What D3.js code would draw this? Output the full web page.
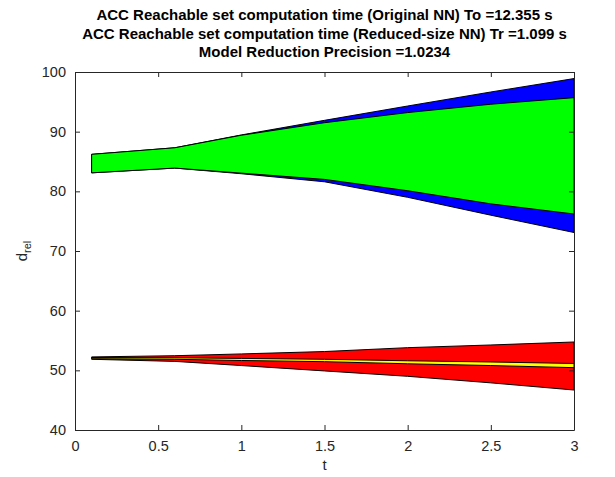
<!DOCTYPE html>
<html>
<head>
<meta charset="utf-8">
<script src="https://cdn.jsdelivr.net/npm/d3@7"></script>
<style>
  body { margin: 0; background: #fff; }
  svg { display: block; font-family: "Liberation Sans", Arial, sans-serif; }
</style>
</head>
<body>
<script>
// time steps and bounds
const times = [0.1, 0.6, 1.0, 1.5, 2.0, 2.5, 3.0];

// d_rel, original NN (blue) and reduced-size NN (green)
const origUpper = [86.2, 87.3, 89.45, 91.9, 94.3, 96.65, 98.9];
const origLower = [83.1, 83.9, 82.95, 81.6, 79.0, 76.0, 73.1];
const redUpper = [86.2, 87.3, 89.4, 91.5, 93.2, 94.6, 95.7];
const redLower = [83.1, 83.9, 83.05, 82.0, 80.1, 77.9, 76.2];

// lower set: original NN (red) and reduced-size NN (yellow)
const orig2Upper = [52.25, 52.45, 52.75, 53.15, 53.8, 54.25, 54.75];
const orig2Lower = [51.85, 51.5, 50.8, 49.9, 49.0, 47.9, 46.7];
const red2Upper = [52.15, 52.1, 52.0, 51.85, 51.6, 51.4, 51.15];
const red2Lower = [51.95, 51.85, 51.65, 51.45, 51.1, 50.8, 50.45];

const xTicks = [0, 0.5, 1, 1.5, 2, 2.5, 3];
const yTicks = [40, 50, 60, 70, 80, 90, 100];

const titleLines = [
  "ACC Reachable set computation time (Original NN) To =12.355 s",
  "ACC Reachable set computation time (Reduced-size NN) Tr =1.099 s",
  "Model Reduction Precision =1.0234"
];

const w = 615;
const h = 477;
const pLeft = 75, pRight = 574, pTop = 72, pBottom = 430;
const axisColor = "#262626";

const svg = d3.select("body").append("svg").attr("width", w).attr("height", h);

const x = d3.scaleLinear().domain([0, 3]).range([pLeft, pRight]);
const y = d3.scaleLinear().domain([40, 100]).range([pBottom, pTop]);

// sets as closed polygons
function band(upper, lower) {
  return d3.area()
    .x((d, i) => x(times[i]))
    .y0((d, i) => y(lower[i]))
    .y1((d, i) => y(upper[i]))(times);
}

const sets = [
  { up: origUpper, lo: origLower, fill: "#0000ff" },
  { up: redUpper, lo: redLower, fill: "#00ff00" },
  { up: orig2Upper, lo: orig2Lower, fill: "#ff0000" },
  { up: red2Upper, lo: red2Lower, fill: "#ffff00" }
];

svg.append("g")
  .selectAll("path")
  .data(sets)
  .enter()
  .append("path")
  .attr("d", (d) => band(d.up, d.lo) + "Z")
  .attr("fill", (d) => d.fill)
  .attr("stroke", "#000")
  .attr("stroke-width", 1)
  .attr("stroke-linejoin", "round");

// axes, MATLAB style: ticks inside, box on
const tick = 5;
const xAxis = d3.axisBottom(x).tickValues(xTicks).tickSizeInner(-tick).tickSizeOuter(0).tickPadding(11).tickFormat(d3.format("~g"));
const yAxis = d3.axisLeft(y).tickValues(yTicks).tickSizeInner(-tick).tickSizeOuter(0).tickPadding(9);
const xTop = d3.axisTop(x).tickValues(xTicks).tickSizeInner(-tick).tickSizeOuter(0).tickFormat("");
const yRight = d3.axisRight(y).tickValues(yTicks).tickSizeInner(-tick).tickSizeOuter(0).tickFormat("");

const gx = svg.append("g").attr("transform", "translate(0," + pBottom + ")").call(xAxis);
const gy = svg.append("g").attr("transform", "translate(" + pLeft + ",0)").call(yAxis);
const gt = svg.append("g").attr("transform", "translate(0," + pTop + ")").call(xTop);
const gr = svg.append("g").attr("transform", "translate(" + pRight + ",0)").call(yRight);

[gx, gy, gt, gr].forEach((g) => {
  g.selectAll("path, line").attr("stroke", axisColor);
  g.selectAll("text").attr("fill", axisColor).style("font-size", "14.5px");
});
gx.selectAll("text").attr("dy", "0.71em");

// labels
svg.append("text")
  .attr("x", (pLeft + pRight) / 2)
  .attr("y", 470)
  .attr("text-anchor", "middle")
  .attr("fill", axisColor)
  .style("font-size", "15px")
  .text("t");

const yl = svg.append("text")
  .attr("transform", "translate(27," + (pTop + pBottom) / 2 + ") rotate(-90)")
  .attr("text-anchor", "middle")
  .attr("fill", axisColor)
  .style("font-size", "15px");
yl.append("tspan").text("d");
yl.append("tspan").attr("dy", 4).style("font-size", "11px").text("rel");

// title
svg.append("g")
  .selectAll("text")
  .data(titleLines)
  .enter()
  .append("text")
  .attr("x", (pLeft + pRight) / 2)
  .attr("y", (d, i) => 20 + i * 18.5)
  .attr("text-anchor", "middle")
  .attr("fill", "#000")
  .style("font-size", "15px")
  .style("font-weight", "bold")
  .text((d) => d);
</script>
</body>
</html>
